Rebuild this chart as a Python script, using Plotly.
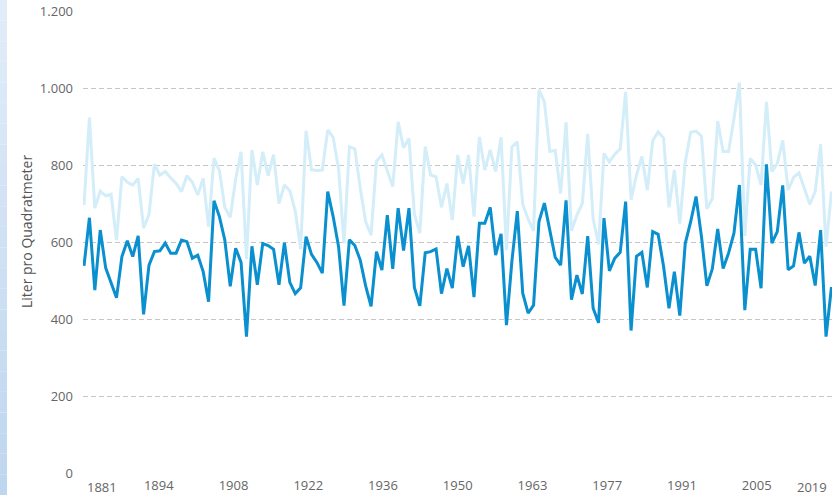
import numpy as np
import plotly.graph_objects as go

# ---------------- data ----------------
years = list(range(1881, 2020))

# light line (upper series)
series_light = [
    696, 923, 688, 732, 720, 724, 605, 770, 755, 748,
    765, 636, 672, 802, 774, 783, 767, 752, 731, 772,
    755, 722, 765, 640, 818, 785, 690, 664, 763, 834,
    556, 839, 748, 834, 772, 827, 700, 748, 733, 681,
    582, 889, 788, 786, 787, 891, 872, 790, 597, 847,
    842, 740, 653, 618, 810, 826, 785, 744, 912, 845,
    869, 672, 623, 848, 774, 769, 690, 752, 657, 826,
    752, 826, 666, 873, 787, 839, 783, 872, 579, 847,
    860, 698, 660, 629, 995, 964, 835, 838, 726, 911,
    629, 670, 700, 881, 660, 594, 830, 808, 828, 842,
    990, 710, 774, 822, 735, 863, 886, 870, 690, 787,
    648, 806, 885, 888, 875, 686, 713, 914, 835, 835,
    921, 1014, 616, 817, 800, 748, 964, 783, 804, 864,
    735, 768, 780, 740, 698, 731, 854, 588, 731,
]

# dark line (lower series)
series_dark = [
    538, 663, 475, 631, 533, 495, 455, 562, 603, 562,
    616, 412, 540, 575, 577, 597, 571, 571, 605, 601,
    558, 566, 523, 445, 707, 666, 605, 485, 584, 547,
    354, 589, 489, 596, 591, 581, 489, 598, 495, 466,
    481, 614, 568, 547, 519, 731, 666, 588, 435, 606,
    591, 553, 486, 433, 575, 527, 670, 530, 688, 578,
    688, 482, 434, 572, 575, 582, 466, 531, 480, 616,
    536, 590, 457, 649, 649, 690, 566, 621, 384, 550,
    680, 467, 415, 436, 653, 701, 632, 560, 540, 708,
    450, 514, 465, 615, 428, 390, 662, 525, 558, 573,
    705, 370, 563, 573, 482, 627, 620, 537, 428, 523,
    409, 596, 652, 718, 614, 486, 530, 634, 531, 571,
    623, 748, 423, 581, 581, 480, 802, 597, 627, 747,
    528, 538, 625, 545, 563, 487, 631, 354, 483,
]

x_tick_labels = ["1881", "1894", "1908", "1922", "1936", "1950",
                 "1963", "1977", "1991", "2005", "2019"]
y_tick_values = [0, 200, 400, 600, 800, 1000, 1200]
y_title = "Liter pro Quadratmeter"

# ---------------- figure ----------------
W, H = 836, 495
ML, MR, MT, MB = 83, 4, 11, 22
PW, PH = W - ML - MR, H - MT - MB

FONT = "Open Sans, Noto Sans, sans-serif"
LABEL_COLOR = "#666666"
TICK_SIZE = 13

fig = go.Figure()
fig.add_trace(go.Scatter(
    x=years, y=series_light, mode="lines",
    line=dict(color="#d3edf9", width=3), hoverinfo="x+y", showlegend=False,
))
fig.add_trace(go.Scatter(
    x=years, y=series_dark, mode="lines",
    line=dict(color="#0a8fcf", width=3), hoverinfo="x+y", showlegend=False,
))

# evenly spaced x ticks between the first and last year
tick_pos = np.linspace(years[0], years[-1], len(x_tick_labels))

annotations = [
    # first / last tick labels, kept inside the plot width
    dict(x=tick_pos[0], y=0, xref="x", yref="paper", text=x_tick_labels[0],
         showarrow=False, xanchor="left", yanchor="top", xshift=1, yshift=-3,
         font=dict(family=FONT, size=TICK_SIZE, color=LABEL_COLOR)),
    dict(x=tick_pos[-1], y=0, xref="x", yref="paper", text=x_tick_labels[-1],
         showarrow=False, xanchor="right", yanchor="top", xshift=-2, yshift=-3,
         font=dict(family=FONT, size=TICK_SIZE, color=LABEL_COLOR)),
    # y axis title
    dict(x=(27 - ML) / PW, y=(H - MB - 232) / PH, xref="paper", yref="paper",
         text=y_title, textangle=-90, showarrow=False,
         xanchor="center", yanchor="middle",
         font=dict(family=FONT, size=14, color="#555555")),
]

# light-blue strip at the left edge of the page
shapes = []
n_band = 24
c_top = np.array([226, 237, 249])
c_bot = np.array([190, 214, 239])
for k in range(n_band):
    t = (k + 0.5) / n_band
    c = (c_top * (1 - t) + c_bot * t).astype(int)
    y_top_px = k * H / n_band
    y_bot_px = (k + 1) * H / n_band
    shapes.append(dict(
        type="rect", xref="paper", yref="paper",
        x0=(0 - ML) / PW, x1=(7 - ML) / PW,
        y0=(H - MB - y_bot_px) / PH, y1=(H - MB - y_top_px) / PH,
        fillcolor=f"rgb({c[0]},{c[1]},{c[2]})", line=dict(width=0), layer="below",
    ))

fig.update_layout(
    width=W, height=H,
    margin=dict(l=ML, r=MR, t=MT, b=MB, pad=0, autoexpand=False),
    paper_bgcolor="white", plot_bgcolor="white",
    separators=",.",
    font=dict(family=FONT, size=TICK_SIZE, color=LABEL_COLOR),
    showlegend=False,
    annotations=annotations,
    shapes=shapes,
    xaxis=dict(
        range=[years[0] - 1 / 5.42, years[-1] + 0.1],
        tickmode="array",
        tickvals=list(tick_pos[1:-1]),
        ticktext=x_tick_labels[1:-1],
        showgrid=False, zeroline=False, showline=False, ticks="",
        ticklabelstandoff=3,
        automargin=False,
        tickfont=dict(family=FONT, size=TICK_SIZE, color=LABEL_COLOR),
        fixedrange=True,
    ),
    yaxis=dict(
        range=[0, 1200],
        tickmode="array",
        tickvals=y_tick_values,
        tickformat=",d",
        showgrid=True, gridcolor="#c6c6c6", gridwidth=1, griddash="5px,3px",
        zeroline=False, showline=False, ticks="",
        ticklabelstandoff=9,
        automargin=False,
        tickfont=dict(family=FONT, size=TICK_SIZE, color=LABEL_COLOR),
        fixedrange=True,
    ),
)

fig.write_html(
    "out.html",
    config={"displayModeBar": False},
    post_script="document.body.style.margin='0';document.body.style.padding='0';",
)
